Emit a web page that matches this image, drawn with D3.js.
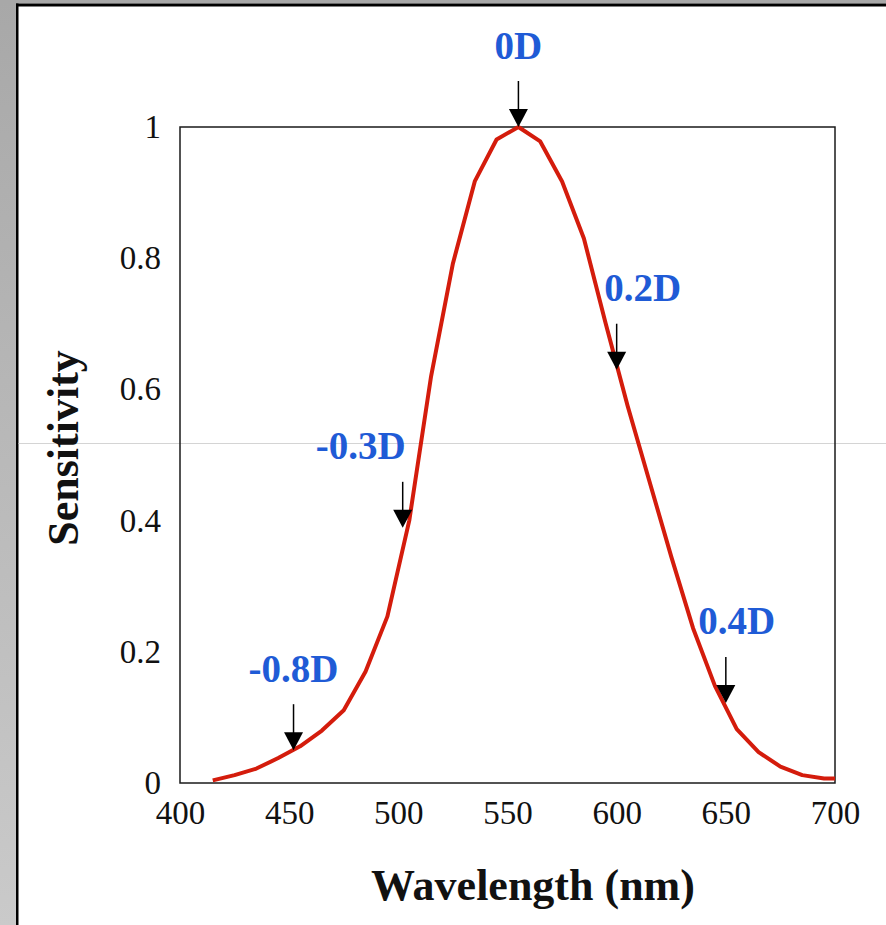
<!DOCTYPE html>
<html>
<head>
<meta charset="utf-8">
<script src="https://cdn.jsdelivr.net/npm/d3@7"></script>
<style>
  body { margin: 0; background: #fff; }
  svg { display: block; }
  .tick text { font-family: "Liberation Serif", "Times New Roman", serif; font-size: 33px; fill: #111; }
  .axis-title { font-family: "Liberation Serif", "Times New Roman", serif; font-size: 44px; font-weight: bold; fill: #111; }
  .mark-label { font-family: "Liberation Serif", "Times New Roman", serif; font-size: 39px; font-weight: bold; fill: #1f5bd6; }
</style>
</head>
<body>
<div id="chart"></div>
<script>
// Sensitivity curve (sampled every 10 nm)
const wavelengths = [415, 425, 435, 445, 455, 465, 475, 485, 495, 505, 515, 525, 535, 545, 555,
  565, 575, 585, 595, 605, 615, 625, 635, 645, 655, 665, 675, 685, 695, 700];
const sensitivity = [0.004, 0.012, 0.022, 0.038, 0.056, 0.08, 0.111, 0.17, 0.254, 0.4, 0.62, 0.792, 0.917, 0.981, 1.0,
  0.978, 0.917, 0.83, 0.70, 0.575, 0.46, 0.345, 0.236, 0.148, 0.082, 0.047, 0.025, 0.012, 0.007, 0.007];

const xTicks = [400, 450, 500, 550, 600, 650, 700];
const yTicks = [0, 0.2, 0.4, 0.6, 0.8, 1];

// Defocus annotations
const markLabels = ["-0.8D", "-0.3D", "0D", "0.2D", "0.4D"];
const markWavelengths = [452, 502, 555, 600, 650];
const markValues = [0.05, 0.389, 1.0, 0.63, 0.122];
const markLabelShift = [0, -42, 0, 26, 11];

const W = 886, H = 925;
const margin = { top: 127, right: 51, bottom: 142, left: 180 };
const width = W - margin.left - margin.right;
const height = H - margin.top - margin.bottom;

const svg = d3.select("#chart").append("svg")
  .attr("width", W)
  .attr("height", H);

// window frame
const grad = svg.append("defs").append("linearGradient")
  .attr("id", "side").attr("x1", 0).attr("y1", 0).attr("x2", 0).attr("y2", 1);
grad.append("stop").attr("offset", "0%").attr("stop-color", "#a8a8a8");
grad.append("stop").attr("offset", "100%").attr("stop-color", "#cacaca");

svg.append("rect").attr("width", W).attr("height", H).attr("fill", "#fff");
svg.append("rect").attr("x", 0).attr("y", 0).attr("width", 16).attr("height", H).attr("fill", "url(#side)");
svg.append("rect").attr("x", 0).attr("y", 0).attr("width", W).attr("height", 3.5).attr("fill", "#a8a8a8");
svg.append("rect").attr("x", 16).attr("y", 3.5).attr("width", W - 16).attr("height", 3).attr("fill", "#000");
svg.append("rect").attr("x", 16).attr("y", 3.5).attr("width", 2.5).attr("height", H).attr("fill", "#000");
svg.append("line")
  .attr("x1", 18.5).attr("x2", W).attr("y1", 443.5).attr("y2", 443.5)
  .attr("stroke", "#d4d4d4").attr("stroke-width", 1);

const g = svg.append("g").attr("transform", `translate(${margin.left},${margin.top})`);

const x = d3.scaleLinear().domain([400, 700]).range([0, width]);
const y = d3.scaleLinear().domain([0, 1]).range([height, 0]);

// Axes
const xAxis = g.append("g")
  .attr("transform", `translate(0,${height})`)
  .call(d3.axisBottom(x).tickValues(xTicks).tickSize(0).tickPadding(17.5).tickFormat(String));
xAxis.select(".domain").remove();

const yAxis = g.append("g")
  .call(d3.axisLeft(y).tickValues(yTicks).tickSize(0).tickPadding(19).tickFormat(String));
yAxis.select(".domain").remove();

// plot frame
g.append("rect")
  .attr("x", 0).attr("y", 0)
  .attr("width", width).attr("height", height)
  .attr("fill", "none")
  .attr("stroke", "#1a1a1a")
  .attr("stroke-width", 1.5);

// Curve
const points = wavelengths.map((w, i) => ({ w, s: sensitivity[i] }));
g.append("path")
  .datum(points)
  .attr("fill", "none")
  .attr("stroke", "#d41c0c")
  .attr("stroke-width", 4)
  .attr("stroke-linejoin", "round")
  .attr("d", d3.line().x(d => x(d.w)).y(d => y(d.s)));

// Arrows + labels
const arrowLen = 46, headH = 18, headW = 19;
markLabels.forEach((label, i) => {
  const ax = x(markWavelengths[i]);
  const tip = y(markValues[i]);
  const top = tip - arrowLen;

  g.append("line")
    .attr("x1", ax).attr("x2", ax)
    .attr("y1", top).attr("y2", tip - headH + 2)
    .attr("stroke", "#000").attr("stroke-width", 1.5);

  g.append("path")
    .attr("d", `M${ax - headW / 2},${tip - headH} L${ax + headW / 2},${tip - headH} L${ax},${tip} Z`)
    .attr("fill", "#000");

  g.append("text")
    .attr("class", "mark-label")
    .attr("x", ax + markLabelShift[i])
    .attr("y", top - 22.5)
    .attr("text-anchor", "middle")
    .text(label);
});

// Axis titles
svg.append("text")
  .attr("class", "axis-title")
  .attr("x", 533)
  .attr("y", 900)
  .attr("text-anchor", "middle")
  .text("Wavelength (nm)");

svg.append("text")
  .attr("class", "axis-title")
  .attr("transform", "rotate(-90)")
  .attr("x", -448)
  .attr("y", 78)
  .attr("text-anchor", "middle")
  .text("Sensitivity");
</script>
</body>
</html>
